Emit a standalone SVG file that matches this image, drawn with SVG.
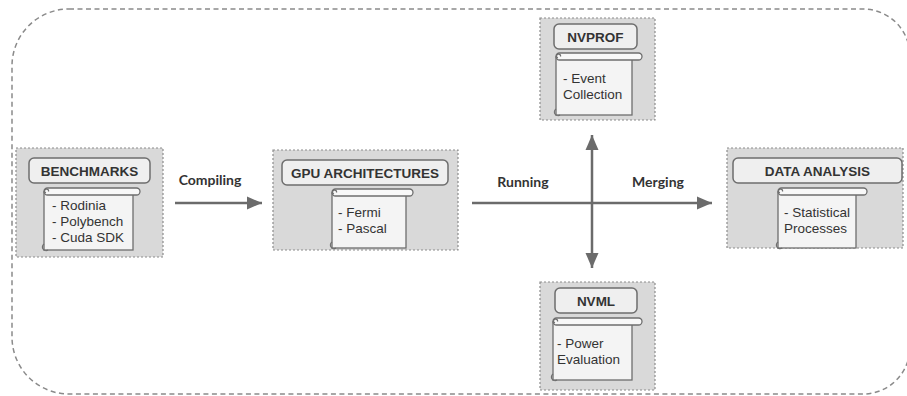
<svg xmlns="http://www.w3.org/2000/svg" width="907" height="396" viewBox="0 0 907 396">
  <defs>
    <style>
      .frame { fill: none; stroke: #8a8a8a; stroke-width: 1.5; stroke-dasharray: 5 3.5; }
      .panel { fill: #d9d9d9; stroke: #8c8c8c; stroke-width: 1.2; stroke-dasharray: 2 2; }
      .title-box { fill: #efefef; stroke: #6e6e6e; stroke-width: 1.5; }
      .title { font-family: "Liberation Sans", Arial, sans-serif; font-weight: bold; font-size: 13.5px; fill: #333; text-anchor: middle; }
      .scroll-body { fill: #f4f4f4; stroke: #6e6e6e; stroke-width: 1.3; }
      .scroll-bar { fill: #f8f8f8; stroke: #6e6e6e; stroke-width: 1.3; }
      .curl { fill: none; stroke: #6e6e6e; stroke-width: 1.2; }
      .item { font-family: "Liberation Sans", Arial, sans-serif; font-size: 13.5px; fill: #333; }
      .edge { fill: none; stroke: #6b6b6b; stroke-width: 2.5; }
      .edge-label { font-family: Lato, "Liberation Sans", sans-serif; font-weight: bold; font-size: 14px; fill: #333; text-anchor: middle; }
    </style>
    <marker id="arrow" markerUnits="userSpaceOnUse" markerWidth="16" markerHeight="14" refX="15" refY="7" orient="auto-start-reverse">
      <path d="M0,0.5 L15,7 L0,13.5 Z" fill="#6b6b6b"/>
    </marker>
  </defs>

  <!-- outer dashed boundary (right side runs just past the canvas edge) -->
  <path class="frame" d="M69,9 H863 A47,47 0 0 1 910,56 V347 A47,47 0 0 1 863,394 H69 A57,57 0 0 1 12,337 V66 A57,57 0 0 1 69,9 Z"/>

  <!-- connectors -->
  <g id="connectors">
    <path class="edge" d="M175,203 L262,203" marker-end="url(#arrow)"/>
    <path class="edge" d="M472,203 L712,203" marker-end="url(#arrow)"/>
    <path class="edge" d="M592,135 L592,268" marker-start="url(#arrow)" marker-end="url(#arrow)"/>
    <text class="edge-label" x="210" y="185">Compiling</text>
    <text class="edge-label" x="523" y="187">Running</text>
    <text class="edge-label" x="658" y="187">Merging</text>
  </g>

  <!-- BENCHMARKS -->
  <g id="benchmarks">
    <rect class="panel" x="16" y="148" width="147" height="109"/>
    <rect class="title-box" x="29" y="158" width="121" height="25" rx="5"/>
    <text class="title" x="89.5" y="175.5">BENCHMARKS</text>
    <rect class="scroll-body" x="44" y="192" width="89" height="58"/>
    <rect class="scroll-bar" x="44" y="188" width="96" height="7" rx="3.5"/>
    <path class="curl" d="M48.5,191.5 a2,2 0 1 0 -2.5,1.5"/>
    <path class="curl" d="M44,244 a3,3 0 1 0 4,6"/>
    <text class="item" x="52" y="210">- Rodinia</text>
    <text class="item" x="52" y="226">- Polybench</text>
    <text class="item" x="52" y="242">- Cuda SDK</text>
  </g>

  <!-- GPU ARCHITECTURES -->
  <g id="gpu-architectures">
    <rect class="panel" x="273" y="150" width="185" height="100"/>
    <rect class="title-box" x="282" y="160" width="166" height="25" rx="5"/>
    <text class="title" x="365" y="177.5">GPU ARCHITECTURES</text>
    <rect class="scroll-body" x="332" y="193" width="74" height="55"/>
    <rect class="scroll-bar" x="332" y="189" width="81" height="7" rx="3.5"/>
    <path class="curl" d="M336.5,192.5 a2,2 0 1 0 -2.5,1.5"/>
    <path class="curl" d="M332,242 a3,3 0 1 0 4,6"/>
    <text class="item" x="338" y="217">- Fermi</text>
    <text class="item" x="338" y="233">- Pascal</text>
  </g>

  <!-- NVPROF -->
  <g id="nvprof">
    <rect class="panel" x="540" y="18" width="115" height="102"/>
    <rect class="title-box" x="554" y="24" width="83" height="25" rx="5"/>
    <text class="title" x="595.5" y="41.5">NVPROF</text>
    <rect class="scroll-body" x="556" y="57" width="76" height="58"/>
    <rect class="scroll-bar" x="556" y="53" width="86" height="7" rx="3.5"/>
    <path class="curl" d="M560.5,56.5 a2,2 0 1 0 -2.5,1.5"/>
    <path class="curl" d="M556,109 a3,3 0 1 0 4,6"/>
    <text class="item" x="563" y="83">- Event</text>
    <text class="item" x="563" y="99">Collection</text>
  </g>

  <!-- NVML -->
  <g id="nvml">
    <rect class="panel" x="540" y="282" width="115" height="108"/>
    <rect class="title-box" x="555" y="288" width="82" height="25" rx="5"/>
    <text class="title" x="596" y="305.5">NVML</text>
    <rect class="scroll-body" x="553" y="322" width="79" height="58"/>
    <rect class="scroll-bar" x="553" y="318" width="89" height="7" rx="3.5"/>
    <path class="curl" d="M557.5,321.5 a2,2 0 1 0 -2.5,1.5"/>
    <path class="curl" d="M553,374 a3,3 0 1 0 4,6"/>
    <text class="item" x="557" y="348">- Power</text>
    <text class="item" x="557" y="364">Evaluation</text>
  </g>

  <!-- DATA ANALYSIS -->
  <g id="data-analysis">
    <rect class="panel" x="727" y="148" width="176" height="100"/>
    <rect class="title-box" x="733" y="158" width="169" height="25" rx="5"/>
    <text class="title" x="817.5" y="175.5">DATA ANALYSIS</text>
    <rect class="scroll-body" x="778" y="192" width="78" height="56"/>
    <rect class="scroll-bar" x="778" y="188" width="89" height="7" rx="3.5"/>
    <path class="curl" d="M782.5,191.5 a2,2 0 1 0 -2.5,1.5"/>
    <path class="curl" d="M778,242 a3,3 0 1 0 4,6"/>
    <text class="item" x="784" y="217">- Statistical</text>
    <text class="item" x="784" y="233">Processes</text>
  </g>
</svg>
